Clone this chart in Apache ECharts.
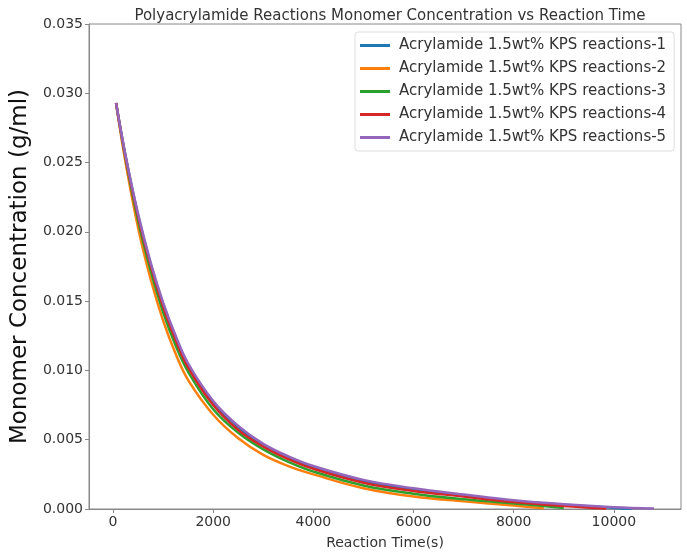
<!DOCTYPE html>
<html>
<head>
<meta charset="utf-8">
<script src="https://cdn.jsdelivr.net/npm/echarts@6/dist/echarts.min.js"></script>
<style>html,body{margin:0;padding:0;background:#fff;}#c{width:687px;height:556px;}</style>
</head>
<body>
<div id="c"></div>
<script>
const seriesNames = [
  'Acrylamide 1.5wt% KPS reactions-1',
  'Acrylamide 1.5wt% KPS reactions-2',
  'Acrylamide 1.5wt% KPS reactions-3',
  'Acrylamide 1.5wt% KPS reactions-4',
  'Acrylamide 1.5wt% KPS reactions-5'
];
const colors = ['#1f77b4', '#ff7f0e', '#2ca02c', '#d62728', '#9467bd'];
const xTicks = [0, 2000, 4000, 6000, 8000, 10000];

const t1 = [60, 250, 500, 750, 1000, 1250, 1500, 2000, 2500, 3000, 3500, 4000, 5000, 6000, 7000, 8000, 9000, 10000, 10350];
const c1 = [0.0293, 0.0255, 0.0212, 0.0177, 0.0148, 0.0124, 0.0104, 0.0077, 0.0059, 0.0046, 0.0037, 0.0030, 0.0020, 0.0014, 0.00095, 0.00058, 0.0003, 0.00008, 0.00002];

const t2 = [60, 250, 500, 750, 1000, 1250, 1500, 2000, 2500, 3000, 3500, 4000, 5000, 6000, 7000, 8000, 8600];
const c2 = [0.0293, 0.0250, 0.0203, 0.0166, 0.0136, 0.0112, 0.0093, 0.0068, 0.0051, 0.0039, 0.0031, 0.0025, 0.0015, 0.0009, 0.00055, 0.00025, 0.00005];

const t3 = [60, 250, 500, 750, 1000, 1250, 1500, 2000, 2500, 3000, 3500, 4000, 5000, 6000, 7000, 8000, 9000];
const c3 = [0.0293, 0.0253, 0.0208, 0.0172, 0.0142, 0.0118, 0.0099, 0.0072, 0.0055, 0.0043, 0.0034, 0.0027, 0.0017, 0.0011, 0.0007, 0.0004, 0.00008];

const t4 = [60, 250, 500, 750, 1000, 1250, 1500, 2000, 2500, 3000, 3500, 4000, 5000, 6000, 7000, 8000, 9000, 9850];
const c4 = [0.0293, 0.0254, 0.0211, 0.0176, 0.0146, 0.0122, 0.0102, 0.0075, 0.0057, 0.0045, 0.0036, 0.0029, 0.0019, 0.0013, 0.0009, 0.0005, 0.00022, 0.00003];

const t5 = [60, 250, 500, 750, 1000, 1250, 1500, 2000, 2500, 3000, 3500, 4000, 5000, 6000, 7000, 8000, 9000, 10000, 10800];
const c5 = [0.0293, 0.0255, 0.0213, 0.0178, 0.0149, 0.0125, 0.0105, 0.0078, 0.0060, 0.0047, 0.0038, 0.0031, 0.0021, 0.0015, 0.00105, 0.00063, 0.00034, 0.00013, 0.00003];

const times = [t1, t2, t3, t4, t5];
const concs = [c1, c2, c3, c4, c5];

const FONT = 'DejaVu Sans';
const chart = echarts.init(document.getElementById('c'), null, {renderer: 'canvas'});
const series = seriesNames.map((n, i) => ({
  name: n,
  type: 'line',
  data: times[i].map((t, j) => [t, concs[i][j]]),
  showSymbol: false,
  smooth: 0.4,
  lineStyle: {width: 2.5, color: colors[i]},
  itemStyle: {color: colors[i]},
  z: 2 + i
}));

chart.setOption({
  animation: false,
  backgroundColor: '#fff',
  textStyle: {fontFamily: FONT},
  title: {
    text: 'Polyacrylamide Reactions Monomer Concentration vs Reaction Time',
    left: 385, top: 4, textAlign: 'center',
    textStyle: {fontFamily: FONT, fontSize: 15, fontWeight: 'normal', color: '#333'}
  },
  grid: {left: 89, right: 6, top: 24, bottom: 47, show: true, borderColor: '#888', borderWidth: 1, backgroundColor: 'transparent'},
  legend: {
    orient: 'vertical',
    left: 355, top: 32,
    padding: [6, 8, 6, 5],
    itemGap: 8,
    itemWidth: 30, itemHeight: 3,
    icon: 'rect',
    borderColor: '#dddddd', borderWidth: 1, borderRadius: 3,
    backgroundColor: '#fff',
    textStyle: {fontFamily: FONT, fontSize: 15, color: '#333', padding: [0, 0, 0, 4]},
    data: seriesNames
  },
  xAxis: {
    type: 'value',
    min: -480, max: 11340,
    name: 'Reaction Time(s)',
    nameLocation: 'middle', nameGap: 27,
    nameTextStyle: {fontFamily: FONT, fontSize: 14, color: '#333'},
    axisLine: {show: true, onZero: false, lineStyle: {color: '#888', width: 1}},
    axisTick: {show: true, length: 4, customValues: xTicks, lineStyle: {color: '#888'}},
    axisLabel: {customValues: xTicks, fontFamily: FONT, fontSize: 14, color: '#333', margin: 6, formatter: v => String(v)},
    splitLine: {show: false}
  },
  yAxis: {
    type: 'value',
    min: 0, max: 0.035, interval: 0.005,
    name: 'Monomer Concentration (g/ml)',
    nameLocation: 'middle', nameGap: 47,
    nameTextStyle: {fontFamily: FONT, fontSize: 23, color: '#111'},
    axisLine: {show: true, onZero: false, lineStyle: {color: '#888', width: 1}},
    axisTick: {show: true, length: 4, lineStyle: {color: '#888'}},
    axisLabel: {fontFamily: FONT, fontSize: 14, color: '#333', margin: 6, formatter: v => v.toFixed(3)},
    splitLine: {show: false}
  },
  series: series
});
</script>
</body>
</html>
